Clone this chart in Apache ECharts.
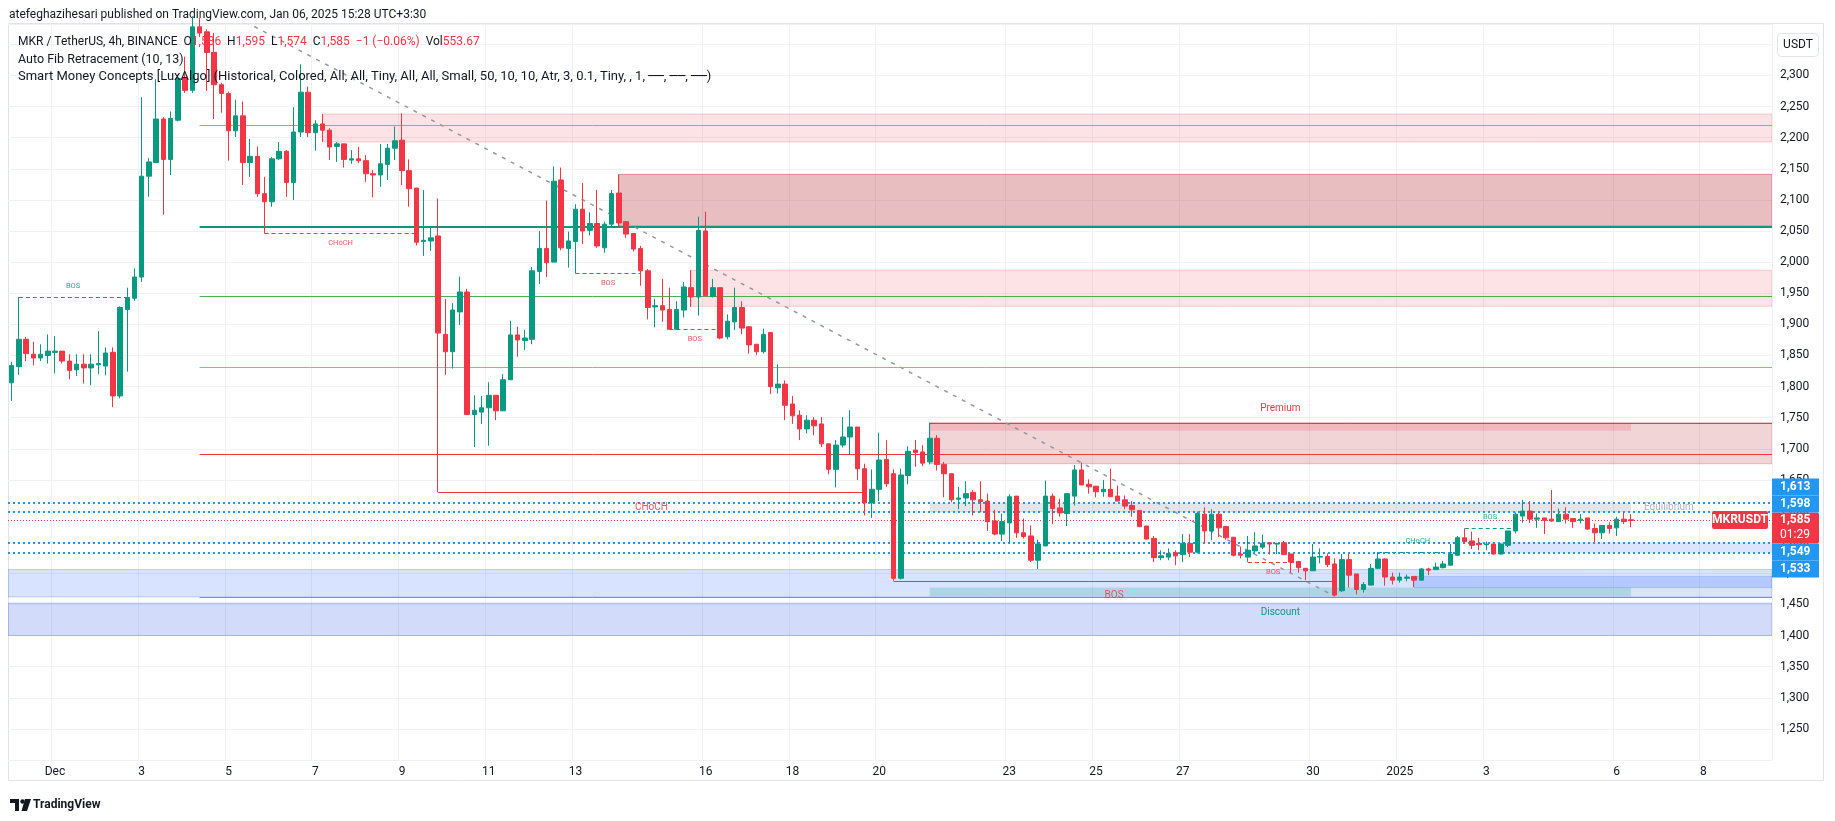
<!DOCTYPE html>
<html>
<head>
<meta charset="utf-8">
<script src="https://cdn.jsdelivr.net/npm/echarts@6/dist/echarts.min.js"></script>
<style>
html,body{margin:0;padding:0;background:#ffffff;}
#c{width:1835px;height:821px;}
</style>
</head>
<body>
<div id="c"></div>
<script>
// ---------------- DATA ----------------
const firstSlot = '2024-11-30 00:00';   // first 4h slot (UTC)
const slotCount = 244;                  // 4h slots shown on the time axis

// [open, close, low, high] per 4h candle, starting at firstSlot
const candles = [
[1806,1834,1777,1840],[1832,1876,1819,1944],[1876,1853,1841,1880],[1852,1846,1834,1872],[1846,1852,1841,1868],[1850,1857,1837,1884],
[1855,1857,1821,1881],[1857,1841,1837,1857],[1841,1826,1812,1852],[1827,1836,1817,1852],[1836,1830,1805,1852],[1830,1836,1802,1852],
[1835,1837,1820,1889],[1833,1854,1818,1863],[1855,1785,1767,1863],[1785,1927,1781,1929],[1924,1943,1824,1959],[1942,1976,1938,1990],
[1976,2138,1968,2265],[2138,2161,2105,2167],[2160,2230,2159,2294],[2230,2165,2076,2233],[2165,2231,2140,2242],[2228,2295,2226,2301],
[2295,2276,2272,2330],[2276,2378,2272,2395],[2378,2368,2362,2392],[2370,2337,2275,2374],[2337,2285,2230,2368],[2285,2271,2240,2288],
[2271,2211,2163,2274],[2211,2235,2201,2261],[2235,2160,2124,2258],[2160,2170,2137,2198],[2170,2110,2105,2186],[2110,2097,2046,2137],
[2097,2166,2089,2169],[2166,2178,2164,2193],[2178,2128,2105,2180],[2128,2209,2100,2249],[2209,2273,2201,2318],[2273,2208,2201,2282],
[2208,2222,2179,2228],[2222,2212,2193,2238],[2212,2185,2164,2215],[2186,2190,2161,2193],[2190,2165,2152,2190],[2164,2166,2158,2180],
[2166,2163,2159,2185],[2163,2142,2129,2172],[2142,2140,2104,2148],[2140,2158,2121,2190],[2157,2183,2132,2190],[2183,2195,2164,2218],
[2196,2147,2124,2239],[2147,2118,2089,2165],[2119,2032,2027,2119],[2033,2035,2010,2116],[2034,2039,2018,2057],[2042,1886,1630,2102],
[1884,1856,1819,1941],[1856,1923,1829,1934],[1920,1952,1899,1977],[1952,1755,1755,1957],[1755,1762,1703,1786],[1759,1766,1740,1785],
[1766,1786,1705,1807],[1786,1761,1746,1786],[1761,1811,1761,1820],[1811,1883,1811,1906],[1883,1875,1848,1896],[1874,1878,1859,1891],
[1876,1986,1868,1992],[1985,2022,1965,2050],[2022,1999,1976,2099],[2000,2130,2000,2154],[2132,2023,2019,2152],[2022,2034,1991,2049],
[2033,2085,1982,2093],[2085,2050,2029,2127],[2051,2062,2043,2080],[2062,2026,2023,2116],[2023,2061,2015,2065],[2061,2110,2057,2116],
[2111,2063,2055,2141],[2065,2045,2039,2065],[2046,2021,2017,2047],[2022,1986,1962,2026],[1986,1927,1908,1989],[1928,1930,1895,1941],
[1930,1923,1904,1973],[1924,1892,1892,1959],[1892,1924,1892,1937],[1923,1960,1911,1968],[1959,1944,1928,1987],[1944,2051,1914,2073],
[2050,1946,1945,2081],[1945,1959,1943,1973],[1959,1878,1876,1959],[1880,1905,1876,1916],[1904,1927,1891,1959],[1927,1894,1884,1937],
[1896,1867,1853,1897],[1868,1856,1851,1868],[1856,1884,1853,1893],[1887,1800,1788,1887],[1798,1804,1789,1836],[1804,1770,1746,1810],
[1772,1753,1740,1785],[1754,1732,1714,1762],[1732,1746,1725,1754],[1746,1737,1722,1751],[1740,1708,1703,1751],[1708,1667,1659,1708],
[1667,1706,1638,1714],[1706,1719,1702,1751],[1719,1735,1691,1762],[1735,1668,1650,1735],[1668,1613,1593,1676],[1613,1635,1589,1667],
[1635,1682,1616,1726],[1683,1644,1639,1714],[1660,1492,1488,1667],[1492,1658,1490,1668],[1657,1696,1643,1704],[1698,1694,1671,1714],
[1695,1677,1672,1706],[1679,1717,1675,1742],[1717,1675,1665,1722],[1675,1660,1622,1679],[1660,1618,1614,1660],[1619,1621,1603,1639],
[1621,1628,1608,1648],[1630,1618,1593,1634],[1618,1615,1598,1648],[1616,1583,1568,1628],[1584,1563,1561,1602],[1563,1583,1552,1596],
[1581,1623,1548,1627],[1624,1565,1557,1624],[1565,1559,1556,1588],[1560,1521,1518,1577],[1521,1547,1507,1554],[1544,1624,1544,1649],
[1624,1604,1579,1628],[1605,1597,1591,1620],[1596,1628,1576,1628],[1624,1666,1609,1674],[1666,1642,1642,1678],[1643,1639,1628,1651],
[1640,1631,1622,1640],[1631,1635,1623,1650],[1635,1623,1623,1668],[1624,1616,1616,1641],[1618,1608,1603,1625],[1609,1602,1591,1616],
[1601,1575,1574,1601],[1576,1555,1555,1576],[1556,1525,1518,1560],[1525,1528,1521,1537],[1526,1532,1521,1540],[1533,1528,1513,1537],
[1530,1548,1518,1563],[1548,1534,1526,1563],[1534,1596,1532,1599],[1595,1568,1548,1606],[1568,1595,1553,1603],[1595,1573,1558,1598],
[1575,1557,1554,1575],[1558,1529,1527,1558],[1531,1529,1524,1543],[1526,1537,1518,1560],[1536,1544,1533,1566],[1542,1548,1539,1562],
[1549,1547,1530,1549],[1547,1548,1531,1549],[1549,1530,1530,1552],[1531,1518,1501,1531],[1519,1509,1501,1519],[1508,1504,1489,1508],
[1504,1526,1504,1547],[1526,1527,1516,1540],[1527,1514,1510,1532],[1515,1465,1463,1524],[1472,1522,1470,1531],[1522,1497,1477,1531],
[1499,1474,1466,1499],[1474,1482,1469,1486],[1481,1508,1481,1515],[1508,1523,1507,1534],[1523,1494,1480,1524],[1494,1489,1482,1501],
[1489,1494,1485,1501],[1492,1494,1487,1498],[1495,1489,1478,1495],[1489,1507,1488,1508],[1507,1505,1497,1509],[1506,1510,1505,1517],
[1509,1515,1508,1520],[1513,1531,1513,1547],[1529,1557,1529,1560],[1557,1551,1548,1572],[1552,1545,1539,1567],[1548,1546,1537,1557],
[1546,1547,1537,1551],[1547,1531,1530,1548],[1531,1547,1530,1548],[1545,1568,1542,1568],[1568,1595,1564,1598],[1592,1600,1581,1618],
[1600,1587,1581,1616],[1587,1589,1573,1596],[1589,1585,1563,1589],[1587,1584,1583,1634],[1583,1595,1583,1604],[1595,1587,1580,1606],
[1588,1583,1573,1588],[1585,1587,1580,1595],[1589,1571,1570,1589],[1572,1565,1549,1580],[1565,1577,1555,1577],[1577,1572,1564,1582],
[1573,1587,1560,1591],[1587,1583,1579,1598],[1586,1585,1574,1595]
];

// time-axis tick labels
const tickDates  = ['2024-12-01','2024-12-03','2024-12-05','2024-12-07','2024-12-09','2024-12-11','2024-12-13','2024-12-16','2024-12-18',
                    '2024-12-20','2024-12-23','2024-12-25','2024-12-27','2024-12-30','2025-01-01','2025-01-03','2025-01-06','2025-01-08'];
const tickLabels = ['Dec','3','5','7','9','11','13','16','18','20','23','25','27','30','2025','3','6','8'];
const priceTickMin = 1250, priceTickMax = 2300;

// Auto Fib Retracement levels
const fibStart = '2024-12-04 08:00';
const fibLevels = [2220, 2057, 1945, 1831, 1691, 1462];

// Order blocks [from, to(null = right edge), top, bottom]
const supplyLight = [['2024-12-07 04:00', null, 2238, 2193], ['2024-12-15 16:00', null, 1987, 1929]];
const supplyDark  = [['2024-12-14 00:00', null, 2141, 2058]];
const supplyRecent = [['2024-12-21 04:00', null, 1742, 1676]];
const demandBands = [[null, null, 1506, 1462]];
const demandDark  = [['2025-01-01 08:00', null, 1495, 1477]];
const demandRecent = [['2025-01-03 08:00', null, 1549, 1533]];
const lowerBand   = [[null, null, 1452, 1400]];

// Premium / Equilibrium / Discount zones [from, to, top, bottom]
const premiumZone     = ['2024-12-21 04:00', '2025-01-06 08:00', 1742, 1729];
const equilibriumZone = ['2024-12-21 04:00', '2025-01-06 08:00', 1613, 1598];
const discountZone    = ['2024-12-21 04:00', '2025-01-06 08:00', 1477, 1463];

// equal highs / lows dotted levels and last price
const dottedLevels = [1613, 1598, 1549, 1533];
const lastPrice = 1585;
const countdown = '01:29';

// market structure [from, to, price, direction, label]
const internalStructure = [
  ['2024-11-30 04:00','2024-12-02 16:00',1944,'up','BOS'],
  ['2024-12-05 20:00','2024-12-09 08:00',2046,'down','CHoCH'],
  ['2024-12-13 00:00','2024-12-14 12:00',1982,'down','BOS'],
  ['2024-12-15 04:00','2024-12-16 08:00',1892,'down','BOS'],
  ['2024-12-28 12:00','2024-12-29 16:00',1518,'down','BOS'],
  ['2024-12-31 12:00','2025-01-02 08:00',1534,'up','CHoCH'],
  ['2025-01-02 12:00','2025-01-03 16:00',1572,'up','BOS']
];
const swingStructure = [
  ['2024-12-09 20:00','2024-12-19 16:00',1630,'down','CHoCH'],
  ['2024-12-20 08:00','2024-12-30 12:00',1488,'down','BOS']
];

// trend line [from, price, to, price]
const trendLine = ['2024-12-04 04:00', 2431, '2024-12-30 12:00', 1463];

// ---------------- BUILD ----------------
function pad(n){ return (n<10?'0':'')+n; }
function fmt(d){ return d.getUTCFullYear()+'-'+pad(d.getUTCMonth()+1)+'-'+pad(d.getUTCDate())+' '+pad(d.getUTCHours())+':00'; }
const categories = [];
const t0 = Date.parse(firstSlot.replace(' ','T')+':00Z');
for (let k=0;k<slotCount;k++) categories.push(fmt(new Date(t0 + k*4*3600*1000)));
const tickMap = {};
tickDates.forEach((d,k)=>{ tickMap[d+' 00:00'] = tickLabels[k]; });
function idx(t){ return categories.indexOf(t); }

const UP = '#089981', DOWN = '#f23645';
const FONT = 'Roboto, "Noto Sans", "DejaVu Sans", sans-serif';
const fibColors = ['#64b5f6', '#089981', '#4caf50', '#81c784', '#f23645', '#8a90a6'];

function X(api, t){ return api.coord([idx(t), 0])[0]; }
function Y(api, p){ return api.coord([0, p])[1]; }
function crisp(v){ return Math.round(v)+0.5; }

// back layer shapes
const back = [];
function addZone(z, style){
  back.push((params, api)=>{
    const cs = params.coordSys;
    const xl = z[0]==null ? cs.x : X(api, z[0]);
    const xr = z[1]==null ? cs.x+cs.width : X(api, z[1]);
    const yt = Y(api, z[2]), yb = Y(api, z[3]);
    return {type:'rect', shape:{x:xl, y:yt, width:xr-xl, height:yb-yt}, style:style};
  });
}
function addHLine(from, to, price, style){
  back.push((params, api)=>{
    const cs = params.coordSys;
    const xl = from==null ? cs.x : X(api, from);
    const xr = to==null ? cs.x+cs.width : X(api, to);
    const w = style.lineWidth || 1;
    const y = w % 2 === 1 ? crisp(Y(api, price)) : Math.round(Y(api, price));
    return {type:'line', shape:{x1:xl, y1:y, x2:xr, y2:y}, style:style};
  });
}

lowerBand.forEach(z=>addZone(z, {fill:'rgba(50,90,230,0.22)', stroke:'rgba(50,90,230,0.32)', lineWidth:1}));
demandBands.forEach(z=>addZone(z, {fill:'rgba(41,98,255,0.18)', stroke:'rgba(41,98,255,0.25)', lineWidth:1}));
demandDark.forEach(z=>addZone(z, {fill:'rgba(41,98,255,0.20)', stroke:'rgba(41,98,255,0.22)', lineWidth:1}));
demandRecent.forEach(z=>addZone(z, {fill:'rgba(41,98,255,0.17)'}));
addZone(discountZone, {fill:'rgba(8,153,129,0.20)'});
supplyLight.forEach(z=>addZone(z, {fill:'rgba(242,54,69,0.14)', stroke:'rgba(242,54,69,0.22)', lineWidth:1}));
supplyDark.forEach(z=>addZone(z, {fill:'rgba(178,40,51,0.30)', stroke:'rgba(178,40,51,0.40)', lineWidth:1}));
supplyRecent.forEach(z=>addZone(z, {fill:'rgba(178,40,51,0.20)', stroke:'rgba(178,40,51,0.25)', lineWidth:1}));
addZone(premiumZone, {fill:'rgba(242,54,69,0.17)'});
addZone(equilibriumZone, {fill:'rgba(120,123,134,0.20)'});
supplyRecent.forEach(z=>addHLine(z[0], null, z[2], {stroke:'#f23645', lineWidth:1}));

fibLevels.forEach((p,k)=>addHLine(fibStart, null, p, {stroke:fibColors[k], lineWidth: k===1?2:1}));

// trend line
back.push((params, api)=>{
  const a = api.coord([idx(trendLine[0]), trendLine[1]]);
  const b = api.coord([idx(trendLine[2]), trendLine[3]]);
  return {type:'line', shape:{x1:a[0], y1:a[1], x2:b[0], y2:b[1]}, style:{stroke:'#9598a1', lineWidth:1.5, lineDash:[4,6]}};
});

internalStructure.forEach(s=>addHLine(s[0], s[1], s[2], {stroke: s[3]==='up'?UP:DOWN, lineWidth:1, lineDash:[4,3]}));
swingStructure.forEach(s=>addHLine(s[0], s[1], s[2], {stroke: DOWN, lineWidth:1}));

dottedLevels.forEach(p=>addHLine(null, null, p, {stroke:'#2196f3', lineWidth:2, lineDash:[2,3]}));
addHLine(null, null, lastPrice, {stroke:'#f23645', lineWidth:1, lineDash:[1,2]});

// front layer (labels)
const front = [];
function addStructLabel(s, size, gapUp, gapDown){
  front.push((params, api)=>{
    const x = (X(api, s[0]) + X(api, s[1]))/2;
    const y = Y(api, s[2]) + (s[3]==='up' ? -gapUp : gapDown);
    return {type:'text', x:x, y:y, style:{text:s[4], fill: s[3]==='up'?UP:DOWN, font: size+'px '+FONT, align:'center', verticalAlign:'middle', opacity:0.85}};
  });
}
internalStructure.forEach(s=>addStructLabel(s, 7.5, 11, 10));
swingStructure.forEach(s=>addStructLabel(s, 10, 14, 15));
front.push((params, api)=>{
  const x = (X(api, premiumZone[0]) + X(api, premiumZone[1]))/2;
  return {type:'text', x:x, y:Y(api, premiumZone[2]) - 14, style:{text:'Premium', fill:DOWN, font:'10px '+FONT, align:'center', verticalAlign:'middle'}};
});
front.push((params, api)=>{
  const x = (X(api, discountZone[0]) + X(api, discountZone[1]))/2;
  return {type:'text', x:x, y:Y(api, discountZone[3]) + 16, style:{text:'Discount', fill:UP, font:'10px '+FONT, align:'center', verticalAlign:'middle'}};
});
front.push((params, api)=>{
  const x = X(api, equilibriumZone[1]) + 13;
  const y = (Y(api, equilibriumZone[2]) + Y(api, equilibriumZone[3]))/2;
  return {type:'text', x:x, y:y, style:{text:'Equilibrium', fill:'#b2b5be', font:'10px '+FONT, align:'left', verticalAlign:'middle'}};
});

// price scale tags
function tagsRender(params, api){
  const cs = params.coordSys;
  const ax = cs.x + cs.width;
  const children = [];
  const yLast = Y(api, lastPrice);
  const redTop = yLast - 8, redH = 31;
  children.push({type:'rect', shape:{x:ax, y:redTop, width:47, height:redH, r:[0,2,2,0]}, style:{fill:'#f23645'}});
  children.push({type:'text', x:ax+8, y:yLast, style:{text:lastPrice.toLocaleString('en-US'), fill:'#fff', font:'bold 12px '+FONT, verticalAlign:'middle'}});
  children.push({type:'text', x:ax+8, y:yLast+15, style:{text:countdown, fill:'#fff', font:'12px '+FONT, verticalAlign:'middle'}});
  const above = dottedLevels.filter(p=>p>lastPrice).sort((a,b)=>a-b);
  const below = dottedLevels.filter(p=>p<lastPrice).sort((a,b)=>b-a);
  let prevTop = redTop;
  above.forEach(p=>{
    const c = Math.min(Y(api,p), prevTop-8.5);
    children.push({type:'rect', shape:{x:ax, y:c-8.5, width:47, height:17}, style:{fill:'#2196f3'}});
    children.push({type:'text', x:ax+8, y:c, style:{text:p.toLocaleString('en-US'), fill:'#fff', font:'bold 12px '+FONT, verticalAlign:'middle'}});
    prevTop = c-8.5;
  });
  let prevBottom = redTop + redH;
  below.forEach(p=>{
    const c = Math.max(Y(api,p), prevBottom+8.5);
    children.push({type:'rect', shape:{x:ax, y:c-8.5, width:47, height:17}, style:{fill:'#2196f3'}});
    children.push({type:'text', x:ax+8, y:c, style:{text:p.toLocaleString('en-US'), fill:'#fff', font:'bold 12px '+FONT, verticalAlign:'middle'}});
    prevBottom = c+8.5;
  });
  // symbol label on the price line
  children.push({type:'rect', shape:{x:ax-60, y:Math.round(yLast)-9, width:56, height:18, r:2}, style:{fill:'#f23645'}});
  children.push({type:'text', x:ax-32, y:Math.round(yLast), style:{text:'MKRUSDT', fill:'#fff', font:'bold 12px '+FONT, align:'center', verticalAlign:'middle'}});
  return {type:'group', children:children};
}

const chart = echarts.init(document.getElementById('c'), null, {renderer:'canvas', width:1835, height:821});

const option = {
  animation:false,
  backgroundColor:'#ffffff',
  textStyle:{fontFamily:FONT},
  grid:{left:8, right:63, top:24, bottom:61, containLabel:false},
  xAxis:{
    type:'category', data:categories, boundaryGap:true,
    axisLine:{show:false}, axisTick:{show:false},
    axisLabel:{interval:(i,v)=>tickMap[v]!==undefined, formatter:v=>tickMap[v]||'', color:'#131722', fontSize:12, margin:6, fontFamily:FONT},
    splitLine:{show:true, interval:(i,v)=>tickMap[v]!==undefined, lineStyle:{color:'#eff1f4', width:1}}
  },
  yAxis:{
    type:'value', position:'right', min:1200, max:2382.6, interval:50, scale:true,
    axisLine:{show:false}, axisTick:{show:false},
    axisLabel:{color:'#131722', fontSize:12, margin:8, fontFamily:FONT, showMaxLabel:false, showMinLabel:false,
      formatter:v=> (v>=priceTickMin && v<=priceTickMax) ? v.toLocaleString('en-US') : ''},
    splitLine:{show:true, lineStyle:{color:'#eff1f4', width:1}}
  },
  series:[
    {type:'custom', name:'overlay-back', z:1, clip:true, silent:true,
     data: back.map(()=>[0, lastPrice]),
     renderItem:(params, api)=>back[params.dataIndex](params, api)},
    {type:'candlestick', name:'MKRUSDT', z:3, barWidth:5, clip:true,
     data:candles,
     itemStyle:{color:UP, color0:DOWN, borderColor:UP, borderColor0:DOWN, borderWidth:1}},
    {type:'custom', name:'overlay-front', z:4, clip:true, silent:true,
     data: front.map(()=>[0, lastPrice]),
     renderItem:(params, api)=>front[params.dataIndex](params, api)},
    {type:'custom', name:'tags', z:5, clip:false, silent:true,
     data:[[0, lastPrice]],
     renderItem:tagsRender}
  ],
  graphic:[
    {type:'rect', z:-1, shape:{x:8.5, y:23.5, width:1815, height:757}, style:{fill:'none', stroke:'#e0e3eb', lineWidth:1}},
    {type:'text', left:9, top:9, style:{text:'atefeghazihesari published on TradingView.com, Jan 06, 2025 15:28 UTC+3:30', font:'12px '+FONT, fill:'#131722'}},
    {type:'text', left:18, top:36, z:100, style:{
      text:'{b|MKR / TetherUS, 4h, BINANCE}  {b|O}{r|1,586}  {b|H}{r|1,595}  {b|L}{r|1,574}  {b|C}{r|1,585}  {r|−1 (−0.06%)}  {b|Vol}{r|553.67}',
      font:'12px '+FONT,
      rich:{b:{fill:'#131722', font:'12px '+FONT}, r:{fill:'#f23645', font:'12px '+FONT}}}},
    {type:'text', left:18, top:53, z:100, style:{text:'Auto Fib Retracement (10, 13)', font:'12.5px '+FONT, fill:'#131722'}},
    {type:'text', left:18, top:70, z:100, style:{text:'Smart Money Concepts [LuxAlgo] (Historical, Colored, All, All, Tiny, All, All, Small, 50, 10, 10, Atr, 3, 0.1, Tiny, , 1, ──, ──, ──)', font:'13px '+FONT, fill:'#131722'}},
    {type:'rect', shape:{x:1777.5, y:33.5, width:41, height:23, r:4}, style:{fill:'#ffffff', stroke:'#e0e3eb', lineWidth:1}},
    {type:'text', x:1798, y:45, style:{text:'USDT', font:'12px '+FONT, fill:'#131722', align:'center', verticalAlign:'middle'}},
    {type:'rect', shape:{x:10, y:799, width:9, height:4}, style:{fill:'#131722'}},
    {type:'rect', shape:{x:15, y:799, width:4, height:12}, style:{fill:'#131722'}},
    {type:'circle', shape:{cx:22.5, cy:801.5, r:2.2}, style:{fill:'#131722'}},
    {type:'polygon', shape:{points:[[25,799],[31,799],[27,811],[21.5,811]]}, style:{fill:'#131722'}},
    {type:'text', x:33, y:805, style:{text:'TradingView', font:'bold 12px '+FONT, fill:'#131722', verticalAlign:'middle'}}
  ]
};
chart.setOption(option);
</script>
</body>
</html>
